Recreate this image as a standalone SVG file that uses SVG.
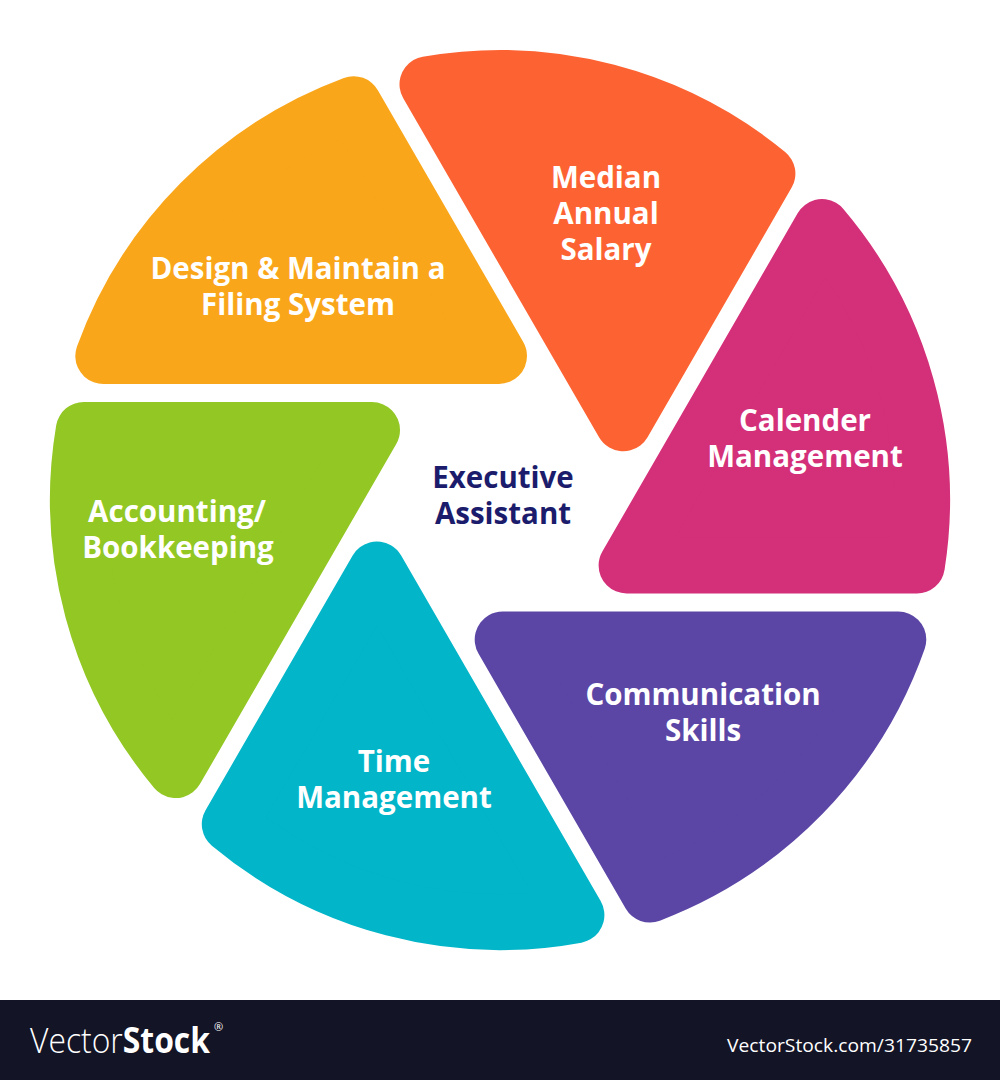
<svg xmlns="http://www.w3.org/2000/svg" width="1000" height="1080" viewBox="0 0 1000 1080">
  <defs>
    <style>
      .blade { stroke-width: 56; stroke-linejoin: round; }
      .lbl { font-family: "Open Sans", "Liberation Sans", sans-serif; font-weight: 700; font-size: 29.5px; fill: #ffffff; text-anchor: middle; }
      .ctr { font-family: "Open Sans", "Liberation Sans", sans-serif; font-weight: 700; font-size: 29.5px; fill: #1c1c6c; text-anchor: middle; }
      .wm { font-family: "Open Sans", "Liberation Sans", sans-serif; fill: #ffffff; }
    </style>
  </defs>
  <rect x="0" y="0" width="1000" height="1080" fill="#ffffff"/>

  <g id="connectors"></g>

  <g id="node-filing">
    <path class="blade" fill="#faa61a" stroke="#faa61a" d="M 103.3,356 L 499,356 L 353.6,104.2 A 422 422 0 0 0 103.3,356 Z"/>
    <text class="lbl" x="298" y="279">Design &amp; Maintain a</text>
    <text class="lbl" x="298" y="315">Filing System</text>
  </g>

  <g id="node-salary">
    <path class="blade" fill="#fd6332" stroke="#fd6332" d="M 623.3,423.3 L 427.5,84.3 A 422 422 0 0 1 767.4,173.6 Z"/>
    <text class="lbl" x="606" y="188">Median</text>
    <text class="lbl" x="606" y="224">Annual</text>
    <text class="lbl" x="606" y="260">Salary</text>
  </g>

  <g id="node-calender">
    <path class="blade" fill="#d42f79" stroke="#d42f79" d="M 626.6,565.5 L 822,227.1 A 422 422 0 0 1 916.9,565.5 Z"/>
    <text class="lbl" x="805" y="431">Calender</text>
    <text class="lbl" x="805" y="467">Management</text>
  </g>

  <g id="node-communication">
    <path class="blade" fill="#5b46a6" stroke="#5b46a6" d="M 502.7,639.5 L 898.3,639.5 A 422 422 0 0 1 649.9,894.5 Z"/>
    <text class="lbl" x="703" y="705">Communication</text>
    <text class="lbl" x="703" y="741">Skills</text>
  </g>

  <g id="node-time">
    <path class="blade" fill="#02b5c8" stroke="#02b5c8" d="M 376.9,569.5 L 576.4,915.1 A 422 422 0 0 1 229.8,824.2 Z"/>
    <text class="lbl" x="394" y="772">Time</text>
    <text class="lbl" x="394" y="808">Management</text>
  </g>

  <g id="node-accounting">
    <path class="blade" fill="#93c723" stroke="#93c723" d="M 372,430 L 175.7,770.1 A 422 422 0 0 1 83.8,430 Z"/>
    <text class="lbl" x="177" y="522">Accounting/</text>
    <text class="lbl" x="178" y="558">Bookkeeping</text>
  </g>

  <g id="node-center">
    <text class="ctr" x="503" y="488">Executive</text>
    <text class="ctr" x="503" y="524">Assistant</text>
  </g>

  <g id="watermark">
    <rect x="0" y="1000" width="1000" height="80" fill="#131426"/>
    <text class="wm" x="30" y="1053" font-size="35" textLength="180" lengthAdjust="spacingAndGlyphs"><tspan font-weight="300">Vector</tspan><tspan font-weight="700">Stock</tspan></text>
    <text class="wm" x="214" y="1031" font-size="11">®</text>
    <text class="wm" x="727" y="1052" font-size="18" textLength="245" lengthAdjust="spacingAndGlyphs">VectorStock.com/31735857</text>
  </g>
</svg>
